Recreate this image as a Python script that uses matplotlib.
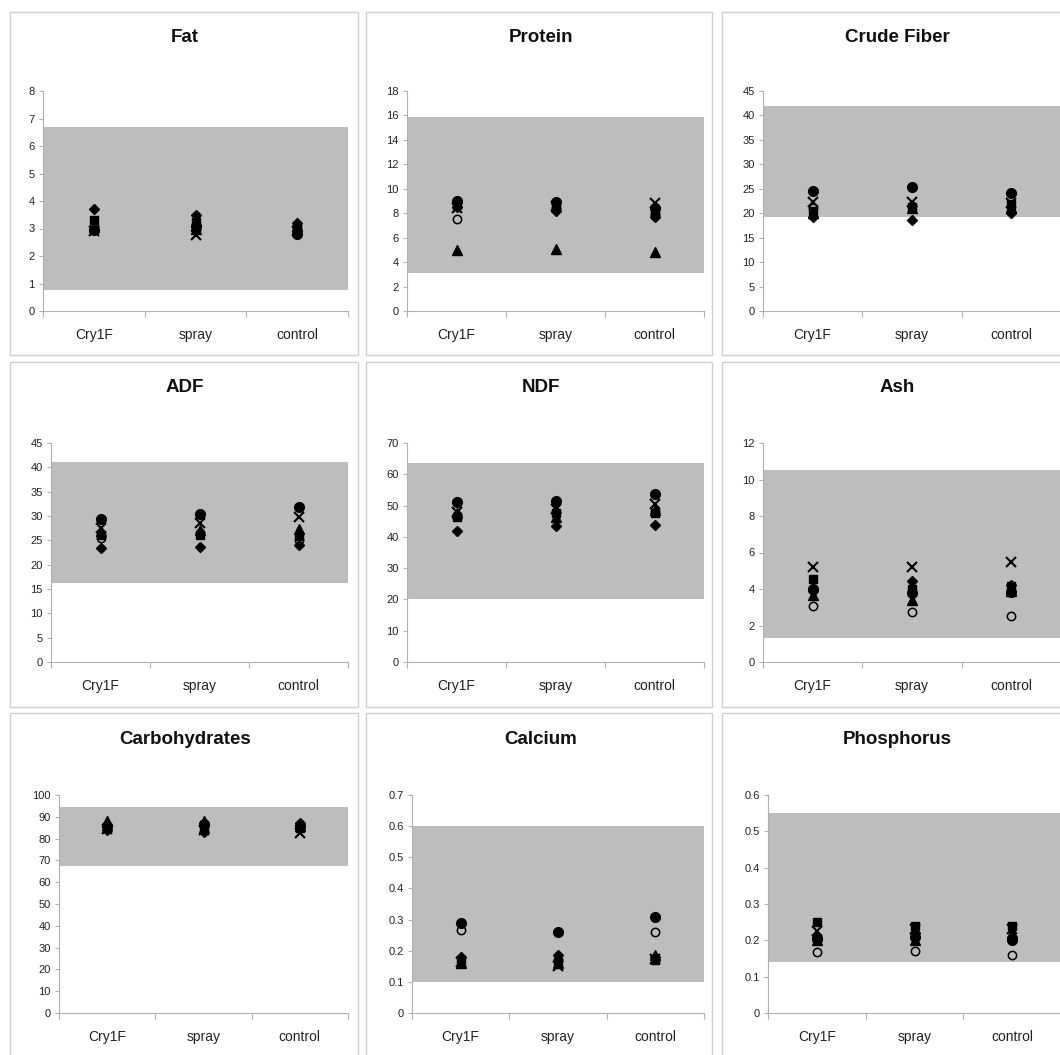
import matplotlib.pyplot as plt
import numpy as np
from matplotlib.patches import Rectangle

plt.rcParams['font.family'] = ['Liberation Sans', 'DejaVu Sans']

categories = ["Cry1F", "spray", "control"]
titles = ["Fat", "Protein", "Crude Fiber",
          "ADF", "NDF", "Ash",
          "Carbohydrates", "Calcium", "Phosphorus"]
y_max = [8, 18, 45, 45, 70, 12, 100, 0.7, 0.6]
y_step = [1, 2, 5, 5, 10, 2, 10, 0.1, 0.1]
range_low = [0.75, 3.1, 19.2, 16.2, 20, 1.3, 67.5, 0.1, 0.14]
range_high = [6.7, 15.9, 42, 41, 63.5, 10.5, 94.5, 0.6, 0.55]

# one row per panel, one value per category
diamond_vals = [[3.7, 3.5, 3.2], [8.5, 8.2, 7.7], [19.2, 18.6, 20.0],
                [23.4, 23.7, 24.0], [42.0, 43.6, 43.9], [3.9, 4.45, 4.2],
                [84, 83, 87], [0.18, 0.185, 0.18], [0.21, 0.22, 0.21]]
square_vals = [[3.3, 3.25, 3.0], [8.7, 8.5, 8.0], [20.5, 21.3, 21.8],
               [26.0, 26.1, 25.8], [46.5, 47.5, 47.5], [4.55, 4.0, 4.15],
               [85, 85, 85], [0.17, 0.165, 0.17], [0.25, 0.24, 0.24]]
triangle_vals = [[3.05, 3.0, 3.1], [5.0, 5.05, 4.85], [20.0, 21.0, 21.0],
                 [27.0, 27.1, 27.3], [47.5, 46.5, 48.5], [3.67, 3.4, 3.9],
                 [88, 88, 86], [0.16, 0.16, 0.185], [0.20, 0.20, 0.22]]
x_vals = [[2.9, 2.75, 2.9], [8.4, 8.6, 8.8], [22.3, 22.2, 22.0],
          [27.5, 28.5, 29.7], [48, 49, 50.5], [5.19, 5.22, 5.46],
          [84.5, 84, 82.5], [0.165, 0.15, 0.175], [0.225, 0.23, 0.23]]
open_vals = [[3.1, 3.0, 3.0], [7.5, 8.4, 7.9], [21, 21.5, 20.5],
             [25.5, 26.5, 25.0], [47, 48, 48], [3.09, 2.75, 2.5],
             [85.5, 86, 85.5], [0.267, 0.17, 0.259], [0.167, 0.17, 0.16]]
filled_vals = [[2.95, 3.1, 2.8], [9.0, 8.9, 8.4], [24.5, 25.3, 24.2],
               [29.3, 30.4, 31.8], [51, 51.6, 53.6], [4.0, 3.8, 3.85],
               [86, 86.5, 86], [0.29, 0.26, 0.309], [0.205, 0.21, 0.20]]

W, H = 1060, 1055
fig = plt.figure(figsize=(W / 100, H / 100), dpi=100)
fig.patch.set_facecolor('white')

# panel frames (pixels, top-left origin)
col_left = [10, 366, 722]
col_right = [358, 712, 1075]
row_top = [12, 362, 713]
row_bot = [355, 707, 1065]

# plot areas
plot_top = [91, 443, 795]
plot_bot = [311, 662, 1013]
plot_left = [[43, 407, 763], [51, 407, 763], [59, 412, 768]]
plot_right = [348, 704, 1061]
title_x = [185, 541, 897]
title_y = [37, 388, 740]

for r in range(3):
    for c in range(3):
        x0, x1 = col_left[c], col_right[c]
        y0, y1 = row_top[r], row_bot[r]
        fig.patches.append(Rectangle((x0 / W, 1 - y1 / H), (x1 - x0) / W, (y1 - y0) / H,
                                     transform=fig.transFigure, fill=False,
                                     edgecolor='#d0d0d0', linewidth=1.0))

for i in range(9):
    r, c = divmod(i, 3)
    l = plot_left[r][c]
    rt = plot_right[c]
    ax = fig.add_axes([l / W, 1 - plot_bot[r] / H, (rt - l) / W, (plot_bot[r] - plot_top[r]) / H])
    ax.set_facecolor('none')
    ax.set_xlim(0.5, 3.5)
    ax.set_ylim(0, y_max[i])
    ax.axhspan(range_low[i], range_high[i], color='#bdbdbd', zorder=0, lw=0)

    xs = np.arange(1, 4)
    ax.plot(xs, open_vals[i], 'o', ms=6, mfc='none', mec='black', mew=1.1, ls='none', zorder=3)
    ax.plot(xs, diamond_vals[i], 'D', ms=5.5, color='black', ls='none', zorder=3)
    ax.plot(xs, square_vals[i], 's', ms=5.5, color='black', ls='none', zorder=3)
    ax.plot(xs, triangle_vals[i], '^', ms=6.5, color='black', ls='none', zorder=3)
    ax.plot(xs, x_vals[i], 'x', ms=6.5, mew=1.5, color='black', ls='none', zorder=3)
    ax.plot(xs, filled_vals[i], 'o', ms=7, color='black', ls='none', zorder=3)

    for side in ['top', 'right']:
        ax.spines[side].set_visible(False)
    for side in ['left', 'bottom']:
        ax.spines[side].set_color('#b0b0b0')
        ax.spines[side].set_linewidth(0.8)

    yt = np.round(np.arange(0, y_max[i] + y_step[i] / 2, y_step[i]), 3)
    ax.set_yticks(yt)
    ax.set_yticklabels([f"{v:g}" for v in yt])
    ax.tick_params(axis='y', length=3, width=0.8, color='#b0b0b0', pad=3,
                   labelsize=8, labelcolor='#222222')

    ax.set_xticks(xs)
    ax.set_xticklabels(categories)
    ax.set_xticks([0.5, 1.5, 2.5, 3.5], minor=True)
    ax.tick_params(axis='x', which='major', length=0, pad=12,
                   labelsize=10, labelcolor='#222222')
    ax.tick_params(axis='x', which='minor', length=4, width=0.8, color='#b0b0b0')

    fig.text(title_x[c] / W, 1 - title_y[r] / H, titles[i], ha='center', va='center',
             fontsize=13.5, fontweight='bold', color='#111111')

fig.savefig('out.png', dpi=100, facecolor='white')
